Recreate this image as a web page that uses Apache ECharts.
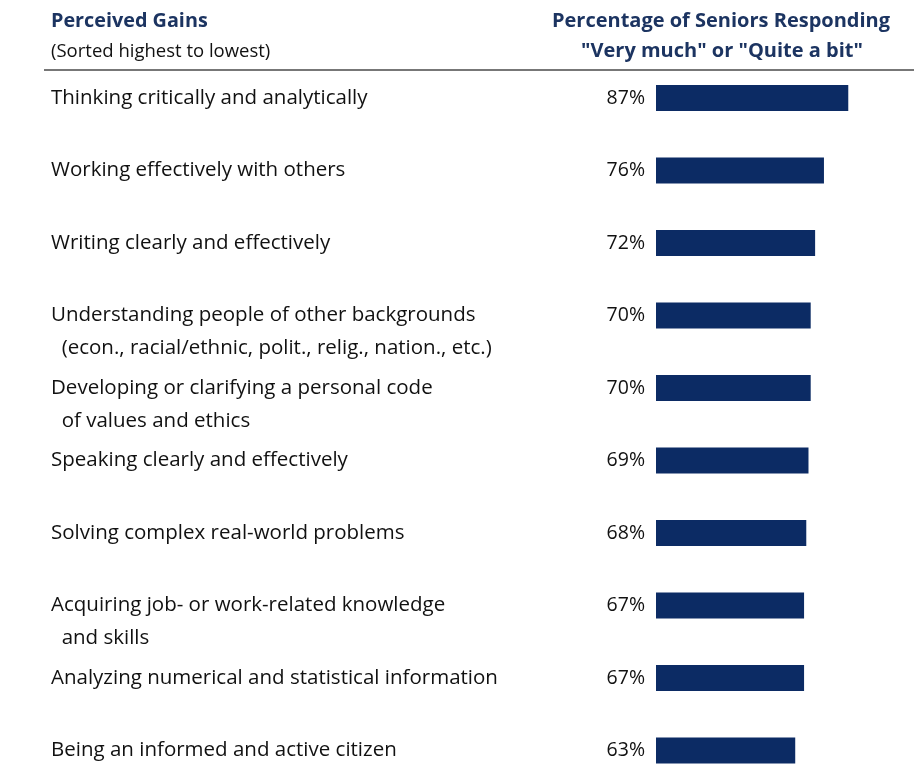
<!DOCTYPE html>
<html>
<head>
<meta charset="utf-8">
<script src="https://cdn.jsdelivr.net/npm/echarts@6/dist/echarts.min.js"></script>
<style>
  html, body { margin: 0; padding: 0; background: #fff; }
  #chart { width: 914px; height: 775px; }
</style>
</head>
<body>
<div id="chart"></div>
<script>
// Perceived gains, sorted highest to lowest
const gains = [
  'Thinking critically and analytically',
  'Working effectively with others',
  'Writing clearly and effectively',
  'Understanding people of other backgrounds\n  (econ., racial/ethnic, polit., relig., nation., etc.)',
  'Developing or clarifying a personal code\n  of values and ethics',
  'Speaking clearly and effectively',
  'Solving complex real-world problems',
  'Acquiring job- or work-related knowledge\n  and skills',
  'Analyzing numerical and statistical information',
  'Being an informed and active citizen'
];
// Percentage of seniors responding "Very much" or "Quite a bit"
const percents = [87, 76, 72, 70, 70, 69, 68, 67, 67, 63];

const FONT = '"Open Sans"';
const NAVY = '#1c3461';
const BAR = '#0c2b64';

// Keep the first line of each label centred on its bar:
// a leading empty line balances a two-line label around line one.
function labelText(s) {
  return s.indexOf('\n') >= 0 ? '\n' + s : s;
}

const chart = echarts.init(document.getElementById('chart'));
chart.setOption({
  animation: false,
  backgroundColor: '#fff',
  grid: { left: 656, right: 37, top: 98, bottom: 24.5, containLabel: false },
  xAxis: {
    type: 'value', min: 0, max: 100,
    show: false
  },
  yAxis: {
    type: 'category',
    data: gains,
    inverse: true,
    boundaryGap: false,
    axisLine: { show: false },
    axisTick: { show: false },
    splitLine: { show: false },
    axisLabel: {
      align: 'left',
      margin: 605,
      fontFamily: FONT,
      fontSize: 20.5,
      lineHeight: 33,
      color: '#111',
      formatter: labelText
    }
  },
  series: [{
    type: 'bar',
    data: percents,
    barWidth: 26,
    clip: false,
    itemStyle: { color: BAR },
    label: {
      show: true,
      position: 'left',
      distance: 11,
      formatter: '{c}%',
      fontFamily: FONT,
      fontSize: 19.5,
      color: '#111'
    }
  }],
  graphic: [
    {
      type: 'text', x: 51, y: 21,
      style: { text: 'Perceived Gains', font: 'bold 19.8px ' + FONT, fill: NAVY, verticalAlign: 'middle' }
    },
    {
      type: 'text', x: 51, y: 52,
      style: { text: '(Sorted highest to lowest)', font: '18.5px ' + FONT, fill: '#111', verticalAlign: 'middle' }
    },
    {
      type: 'text', x: 721, y: 21,
      style: { text: 'Percentage of Seniors Responding', font: 'bold 20px ' + FONT, fill: NAVY, align: 'center', verticalAlign: 'middle' }
    },
    {
      type: 'text', x: 722, y: 51,
      style: { text: '"Very much" or "Quite a bit"', font: 'bold 20px ' + FONT, fill: NAVY, align: 'center', verticalAlign: 'middle' }
    },
    {
      type: 'line',
      shape: { x1: 44, y1: 70, x2: 914, y2: 70 },
      style: { stroke: '#4a4a4a', lineWidth: 1.5 }
    }
  ]
});
</script>
</body>
</html>
